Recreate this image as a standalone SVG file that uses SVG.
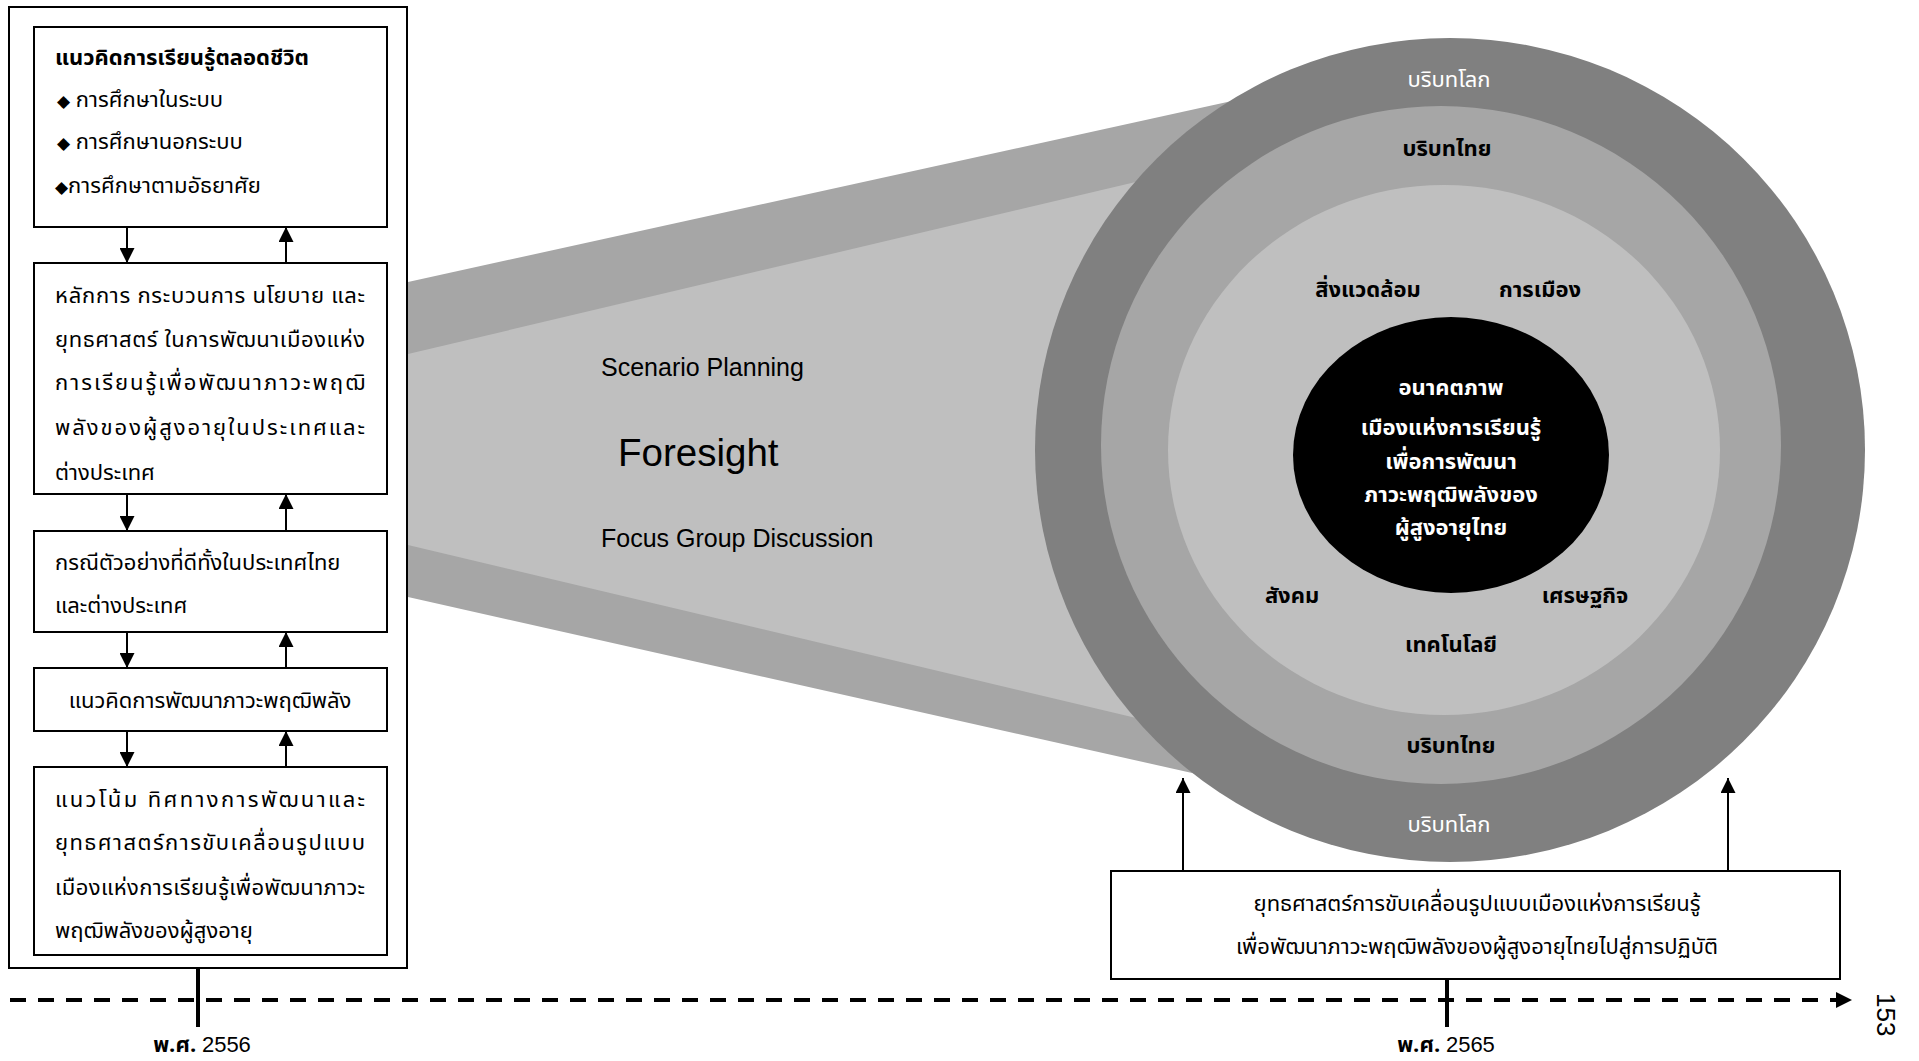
<svg xmlns="http://www.w3.org/2000/svg" width="1919" height="1061" viewBox="0 0 1919 1061">
<style>
.box{fill:#fff;stroke:#000;stroke-width:2}
.th{font-family:"Noto Sans Thai","Noto Sans","DejaVu Sans",sans-serif;font-size:22px;fill:#000}
.b{font-weight:bold}
.w{fill:#fff}
.en{font-family:"Liberation Sans",Arial,sans-serif;fill:#000}
.mid{text-anchor:middle}
.dia{font-family:"DejaVu Sans",sans-serif;font-size:17px}
.conn line{stroke:#000;stroke-width:2}
.tl line{stroke:#000;stroke-width:4}
</style>
<defs>
<marker id="ah" viewBox="0 0 10 10" refX="10" refY="5" markerWidth="15" markerHeight="15" markerUnits="userSpaceOnUse" orient="auto"><path d="M0,0 L10,5 L0,10 z" fill="#000"/></marker>
<marker id="ah2" viewBox="0 0 10 10" refX="10" refY="5" markerWidth="16" markerHeight="16" markerUnits="userSpaceOnUse" orient="auto"><path d="M0,0 L10,5 L0,10 z" fill="#000"/></marker>
</defs>

<g id="fan">
<polygon points="408,282 1250,97 1250,786 408,597" fill="#a6a6a6"/>
<polygon points="408,354 1250,155 1250,745 408,545" fill="#bfbfbf"/>
<text class="en" x="601" y="376" font-size="25">Scenario Planning</text>
<text class="en" x="618" y="466" font-size="38.5">Foresight</text>
<text class="en" x="601" y="547" font-size="25">Focus Group Discussion</text>
</g>

<g id="circle">
<ellipse cx="1450" cy="450" rx="415" ry="412" fill="#808080"/>
<ellipse cx="1441" cy="445" rx="340" ry="339" fill="#a6a6a6"/>
<ellipse cx="1444" cy="450" rx="276" ry="265" fill="#bfbfbf"/>
<ellipse cx="1451" cy="455" rx="158" ry="138" fill="#000"/>
<text class="th w mid" x="1449" y="87" font-size="24">บริบทโลก</text>
<text class="th b mid" x="1447" y="156" font-size="26">บริบทไทย</text>
<text class="th b mid" x="1368" y="297" font-size="25">สิ่งแวดล้อม</text>
<text class="th b mid" x="1540" y="297" font-size="25">การเมือง</text>
<text class="th b w mid" x="1451" y="395" font-size="25">อนาคตภาพ</text>
<text class="th b w mid" x="1451" y="435" font-size="27">เมืองแห่งการเรียนรู้</text>
<text class="th b w mid" x="1451" y="469" font-size="17">เพื่อการพัฒนา</text>
<text class="th b w mid" x="1451" y="502" font-size="17">ภาวะพฤฒิพลังของ</text>
<text class="th b w mid" x="1451" y="535" font-size="17">ผู้สูงอายุไทย</text>
<text class="th b mid" x="1292" y="603" font-size="24">สังคม</text>
<text class="th b mid" x="1585" y="603" font-size="25">เศรษฐกิจ</text>
<text class="th b mid" x="1451" y="652" font-size="25">เทคโนโลยี</text>
<text class="th b mid" x="1451" y="753" font-size="25">บริบทไทย</text>
<text class="th w mid" x="1449" y="832" font-size="24">บริบทโลก</text>
</g>

<g id="frame"><rect x="9" y="7" width="398" height="961" fill="none" stroke="#000" stroke-width="2"/></g>

<g id="box1">
<rect class="box" x="34" y="27" width="353" height="200"/>
<text class="th b" x="55" y="65" font-size="24">แนวคิดการเรียนรู้ตลอดชีวิต</text>
<text class="th" x="57" y="107" font-size="23.5"><tspan class="dia">◆</tspan> การศึกษาในระบบ</text>
<text class="th" x="57" y="149" font-size="23.5"><tspan class="dia">◆</tspan> การศึกษานอกระบบ</text>
<text class="th" x="55" y="193" font-size="23.5"><tspan class="dia">◆</tspan>การศึกษาตามอัธยาศัย</text>
</g>

<g id="box2">
<rect class="box" x="34" y="263" width="353" height="231"/>
<text class="th" x="55" y="303" textLength="310" lengthAdjust="spacing">หลักการ กระบวนการ นโยบาย และ</text>
<text class="th" x="55" y="347" textLength="310" lengthAdjust="spacing">ยุทธศาสตร์ ในการพัฒนาเมืองแห่ง</text>
<text class="th" x="55" y="390" textLength="310" lengthAdjust="spacing">การเรียนรู้เพื่อพัฒนาภาวะพฤฒิ</text>
<text class="th" x="55" y="435" textLength="310" lengthAdjust="spacing">พลังของผู้สูงอายุในประเทศและ</text>
<text class="th" x="55" y="480">ต่างประเทศ</text>
</g>

<g id="box3">
<rect class="box" x="34" y="531" width="353" height="101"/>
<text class="th" x="55" y="570">กรณีตัวอย่างที่ดีทั้งในประเทศไทย</text>
<text class="th" x="55" y="613">และต่างประเทศ</text>
</g>

<g id="box4">
<rect class="box" x="34" y="668" width="353" height="63"/>
<text class="th mid" x="210" y="708">แนวคิดการพัฒนาภาวะพฤฒิพลัง</text>
</g>

<g id="box5">
<rect class="box" x="34" y="767" width="353" height="188"/>
<text class="th" x="55" y="807" textLength="310" lengthAdjust="spacing">แนวโน้ม ทิศทางการพัฒนาและ</text>
<text class="th" x="55" y="850" textLength="310" lengthAdjust="spacing">ยุทธศาสตร์การขับเคลื่อนรูปแบบ</text>
<text class="th" x="55" y="895" textLength="310" lengthAdjust="spacing">เมืองแห่งการเรียนรู้เพื่อพัฒนาภาวะ</text>
<text class="th" x="55" y="938">พฤฒิพลังของผู้สูงอายุ</text>
</g>

<g id="box6">
<rect class="box" x="1111" y="871" width="729" height="108"/>
<text class="th mid" x="1477" y="911">ยุทธศาสตร์การขับเคลื่อนรูปแบบเมืองแห่งการเรียนรู้</text>
<text class="th mid" x="1477" y="954" font-size="22.6">เพื่อพัฒนาภาวะพฤฒิพลังของผู้สูงอายุไทยไปสู่การปฏิบัติ</text>
</g>

<g class="conn" id="connectors">
<line x1="127" y1="227" x2="127" y2="263" marker-end="url(#ah)"/>
<line x1="286" y1="263" x2="286" y2="227" marker-end="url(#ah)"/>
<line x1="127" y1="494" x2="127" y2="531" marker-end="url(#ah)"/>
<line x1="286" y1="531" x2="286" y2="494" marker-end="url(#ah)"/>
<line x1="127" y1="632" x2="127" y2="668" marker-end="url(#ah)"/>
<line x1="286" y1="668" x2="286" y2="632" marker-end="url(#ah)"/>
<line x1="127" y1="731" x2="127" y2="767" marker-end="url(#ah)"/>
<line x1="286" y1="767" x2="286" y2="731" marker-end="url(#ah)"/>
<line x1="1183" y1="871" x2="1183" y2="778" marker-end="url(#ah)"/>
<line x1="1728" y1="871" x2="1728" y2="778" marker-end="url(#ah)"/>
</g>

<g class="tl" id="timeline">
<line x1="10" y1="1000" x2="1852" y2="1000" stroke-dasharray="16 12" marker-end="url(#ah2)"/>
<line x1="198" y1="968" x2="198" y2="1027"/>
<line x1="1447" y1="979" x2="1447" y2="1027"/>
</g>
<g id="labels">
<text class="th mid" x="202" y="1052" font-size="26"><tspan font-weight="bold">พ.ศ.</tspan> <tspan font-family="Liberation Sans">2556</tspan></text>
<text class="th mid" x="1446" y="1052" font-size="26"><tspan font-weight="bold">พ.ศ.</tspan> <tspan font-family="Liberation Sans">2565</tspan></text>
<text class="en" x="1877" y="993" font-size="26" transform="rotate(90 1877 993)">153</text>
</g>
</svg>
